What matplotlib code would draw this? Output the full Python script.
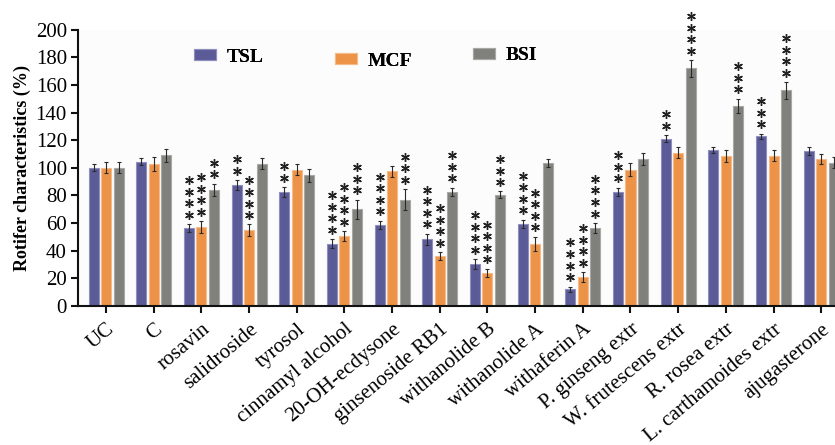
import matplotlib
matplotlib.use("Agg")
import matplotlib.pyplot as plt
from matplotlib.patches import Patch
import matplotlib.transforms as mtrans
import numpy as np

categories = ["UC", "C", "rosavin", "salidroside", "tyrosol", "cinnamyl alcohol",
              "20-OH-ecdysone", "ginsenoside RB1", "withanolide B", "withanolide A",
              "withaferin A", "P. ginseng extr", "W. frutescens extr", "R. rosea extr",
              "L. carthamoides extr", "ajugasterone"]
series = ["TSL", "MCF", "BSI"]
tsl = [100, 104.5, 56.3, 87.7, 82.5, 45.2, 58.6, 48.4, 30.3, 59.3, 12.1, 82.5, 121, 112.8, 122.7, 112]
mcf = [100, 103, 57, 55, 98.5, 50.6, 97.5, 36, 24, 45, 20.8, 98.8, 110.9, 108.7, 108.7, 106.5]
bsi = [100, 109, 84, 103, 94.6, 70, 77, 82.5, 80.4, 103.4, 56.6, 106.5, 172, 145, 156, 103.6]
tsl_err = [2.5, 2.5, 3, 3.5, 3.5, 3, 3, 4, 3.5, 3, 2, 3, 2.5, 2, 2, 3]
mcf_err = [4, 5, 4.5, 4, 4, 3.5, 4, 3, 3, 5, 3.5, 5, 4, 4.5, 4, 3.5]
bsi_err = [4, 4.5, 4.5, 4, 4.5, 7, 7.5, 3, 2.5, 3, 3.5, 4.5, 6, 5, 6, 4]
tsl_stars = [0, 0, 4, 2, 2, 4, 4, 4, 4, 4, 4, 3, 2, 0, 3, 0]
mcf_stars = [0, 0, 4, 4, 0, 4, 0, 4, 4, 4, 4, 0, 0, 0, 0, 0]
bsi_stars = [0, 0, 2, 0, 0, 3, 3, 3, 3, 0, 4, 0, 4, 3, 4, 0]
yticks = [0, 20, 40, 60, 80, 100, 120, 140, 160, 180, 200]

colors = ["#5b5c97", "#ec9348", "#80807c"]
edges = ["#8f90c0", "#f5bb88", "#a8a8a4"]

serif = "Liberation Serif"
W, H = 835, 445
fig = plt.figure(figsize=(W / 100, H / 100), dpi=100)
ax = fig.add_axes([78 / W, (H - 306) / H, 1 - 78 / W, (306 - 29.7) / H])

x = np.arange(len(categories))
w = 0.21
off = 0.26
vals = [tsl, mcf, bsi]
errs = [tsl_err, mcf_err, bsi_err]
stars = [tsl_stars, mcf_stars, bsi_stars]
star_gap0 = 6.8   # points above error-bar top for first star
star_step = 8.3   # points between stacked stars
for k in range(3):
    xs = x + (k - 1) * off
    ax.bar(xs, vals[k], width=w, color=colors[k], edgecolor=edges[k], linewidth=0.8,
           label=series[k], zorder=2)
    ax.errorbar(xs, vals[k], yerr=errs[k], fmt="none", ecolor="#2a2a2a",
                elinewidth=0.8, capsize=1.5, capthick=0.8, zorder=3)
    tops = np.array(vals[k]) + np.array(errs[k])
    nmax = max(stars[k])
    for j in range(nmax):
        sel = np.array(stars[k]) > j
        tr = mtrans.offset_copy(ax.transData, fig=fig, x=0, y=star_gap0 + star_step * j,
                                units="points")
        ax.plot(xs[sel], tops[sel], linestyle="none", marker=(6, 2, 0), markersize=6.3,
                markeredgewidth=1.0, color="#222222", transform=tr, clip_on=False, zorder=4)

ax.set_xlim(-0.59, 15.29)
ax.set_ylim(0, 200)
ax.set_yticks(yticks)
ax.set_yticklabels([str(t) for t in yticks], family=serif, fontsize=15)
ax.set_xticks(x)
ax.set_xticklabels(categories, rotation=40, ha="right", rotation_mode="anchor",
                   family=serif, fontsize=15)
ax.tick_params(axis="both", direction="out", length=5, width=1.5, color="#111111", pad=3)
ax.tick_params(axis="x", pad=5)
for s in ["top", "right"]:
    ax.spines[s].set_visible(False)
for s in ["left", "bottom"]:
    ax.spines[s].set_linewidth(1.5)
    ax.spines[s].set_color("#111111")
ax.set_facecolor("#fcfcfc")
ax.set_ylabel("Rotifer characteristics (%)", family=serif, fontweight="bold", fontsize=13)
ax.yaxis.set_label_coords(-0.062, 0.5)

# legend entries placed individually (figure pixel positions of handle left edge / centre)
leg_pos = [(194, 57), (335, 61), (473, 56)]
for k in range(3):
    px, py = leg_pos[k]
    h = Patch(facecolor=colors[k], edgecolor=edges[k], linewidth=0.8)
    lg = fig.legend([h], [series[k]], loc="center left",
                    bbox_to_anchor=(px / W, 1 - py / H), frameon=False, borderpad=0,
                    borderaxespad=0, prop={"family": serif, "weight": "bold", "size": 14},
                    handlelength=1.13, handleheight=0.55, handletextpad=0.55)
    fig.add_artist(lg)

fig.savefig("out.png", dpi=100)
